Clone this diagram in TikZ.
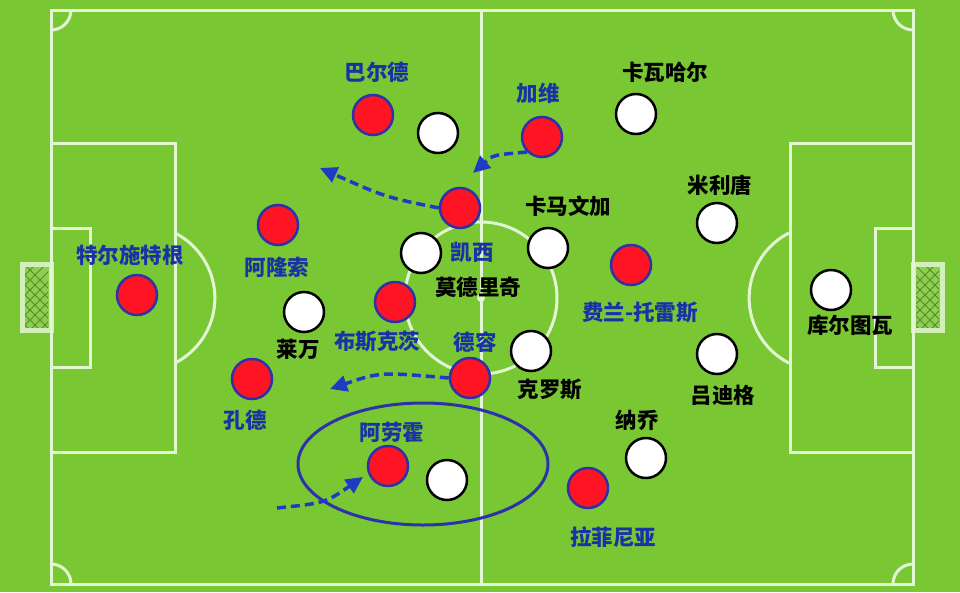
\documentclass[tikz,border=0pt]{standalone}
\usepackage{fontspec}
\usepackage{tikz}
\usetikzlibrary{arrows.meta}
\newfontfamily\cjk{Noto Sans CJK SC}
\definecolor{grass}{RGB}{122,199,52}
\definecolor{chalk}{RGB}{226,246,212}
\definecolor{kitblue}{RGB}{45,50,170}
\definecolor{kitred}{RGB}{255,20,35}
\definecolor{txtblue}{RGB}{25,50,165}
\definecolor{runblue}{RGB}{30,60,195}

\begin{document}
\begin{tikzpicture}[x=1pt,y=-1pt]
        \tikzset{line/.style={draw=chalk, line width=3pt}}
        \tikzset{barca/.style={shape=circle, fill=kitred, draw=kitblue,
            line width=2.5pt, minimum size=40pt, inner sep=0pt}}
        \tikzset{madrid/.style={shape=circle, fill=white, draw=black,
            line width=2.5pt, minimum size=40pt, inner sep=0pt}}
        \tikzset{bname/.style={font=\cjk\bfseries\fontsize{21.5}{22}\selectfont,
            text=txtblue, inner sep=0pt}}
        \tikzset{rname/.style={bname, text=black}}
        \tikzset{run/.style={draw=runblue, line width=3.5pt,
            dash pattern=on 9pt off 5pt, -{Triangle[length=17pt,width=16pt]}}}
        \tikzset{net/.style={draw=chalk!85!grass, line width=5pt, fill=grass!85!white}}
        \tikzset{mesh/.style={draw=grass!70!black, line width=0.8pt}}

        \useasboundingbox (0,0) rectangle (960,592);
        \fill[grass] (0,0) rectangle (960,592);

        % goals
        \draw[net] (22,264) rectangle (51,330);
        \draw[net] (913,264) rectangle (942,330);
        \begin{scope}
          \clip (25,267) rectangle (48,327);
          \foreach \i in {240,250,...,340} {
            \draw[mesh] (0,\i) -- (60,\i+60);
            \draw[mesh] (0,\i+60) -- (60,\i);
          }
        \end{scope}
        \begin{scope}
          \clip (916,267) rectangle (939,327);
          \foreach \i in {240,250,...,340} {
            \draw[mesh] (900,\i) -- (960,\i+60);
            \draw[mesh] (900,\i+60) -- (960,\i);
          }
        \end{scope}

        % pitch
        \draw[line] (51,10) rectangle (913,584);
        \draw[line] (481,10) -- (481,584);
        \draw[line] (481,298) circle (76);
        \fill[chalk] (481,298) circle (4);
        \draw[line] (51,143) rectangle (175,452);
        \draw[line] (51,228) rectangle (90,367);
        \draw[line] (913,143) rectangle (790,452);
        \draw[line] (913,228) rectangle (875,367);
        \draw[line] (175,233) arc[start angle=-63, end angle=63, radius=73];
        \draw[line] (789,233) arc[start angle=243, end angle=117, radius=73];
        \draw[line] (71,10) arc[start angle=0, end angle=90, radius=20];
        \draw[line] (51,564) arc[start angle=-90, end angle=0, radius=20];
        \draw[line] (893,10) arc[start angle=180, end angle=90, radius=20];
        \draw[line] (893,584) arc[start angle=180, end angle=270, radius=20];

        \draw[kitblue, line width=3pt] (423,464) ellipse [x radius=125, y radius=61];

        % barcelona
        \node[barca] (ter) at (137,295) {};
        \node[barca] (alo) at (278,225) {};
        \node[barca] (kou) at (252,379) {};
        \node[barca] (ara) at (388,466) {};
        \node[barca] (bal) at (373,115) {};
        \node[barca] (kes) at (460,208) {};
        \node[barca] (bus) at (395,302) {};
        \node[barca] (dej) at (470,378) {};
        \node[barca] (gav) at (542,137) {};
        \node[barca] (fer) at (631,265) {};
        \node[barca] (raf) at (588,488) {};

        % real madrid
        \node[madrid] (cou) at (831,290) {};
        \node[madrid] (mil) at (717,223) {};
        \node[madrid] (rud) at (717,354) {};
        \node[madrid] (car) at (636,114) {};
        \node[madrid] (nac) at (646,458) {};
        \node[madrid] (cam) at (548,248) {};
        \node[madrid] (mod) at (421,253) {};
        \node[madrid] (kro) at (531,351) {};
        \node[madrid] (val) at (438,133) {};
        \node[madrid] (lew) at (304,312) {};
        \node[madrid] (rod) at (447,480) {};

        \node[bname] (terL) at (130,255) {特尔施特根};
        \node[bname] (aloL) at (277,267) {阿隆索};
        \node[bname] (kouL) at (245,420) {孔德};
        \node[bname] (araL) at (392,432) {阿劳霍};
        \node[bname] (balL) at (377,72) {巴尔德};
        \node[bname] (kesL) at (472,252) {凯西};
        \node[bname] (busL) at (377,342) {布斯克茨};
        \node[bname] (dejL) at (475,342) {德容};
        \node[bname] (gavL) at (538,93) {加维};
        \node[bname] (ferL) at (640,313) {费兰-托雷斯};
        \node[bname] (rafL) at (613,537) {拉菲尼亚};

        \node[rname] (couL) at (850,325) {库尔图瓦};
        \node[rname] (milL) at (720,185) {米利唐};
        \node[rname] (rudL) at (723,395) {吕迪格};
        \node[rname] (carL) at (665,72) {卡瓦哈尔};
        \node[rname] (nacL) at (637,420) {纳乔};
        \node[rname] (camL) at (568,206) {卡马文加};
        \node[rname] (modL) at (478,287) {莫德里奇};
        \node[rname] (kroL) at (550,390) {克罗斯};
        \node[rname] (lewL) at (298,349) {莱万};

        % runs
        \coordinate (k1) at (320,168);
        \coordinate (g1) at (473,173);
        \coordinate (d1) at (330,389);
        \coordinate (a0) at (277,508);
        \coordinate (a1) at (363,477);
        \draw[run] (kes.west) .. controls (385,197) .. (k1);
        \draw[run] (gav.south west) .. controls (493,155) .. (g1);
        \draw[run] (dej.west) .. controls (380,372) .. (d1);
        \draw[run] (a0) .. controls (325,503) .. (a1);
      \end{tikzpicture}
\end{document}
